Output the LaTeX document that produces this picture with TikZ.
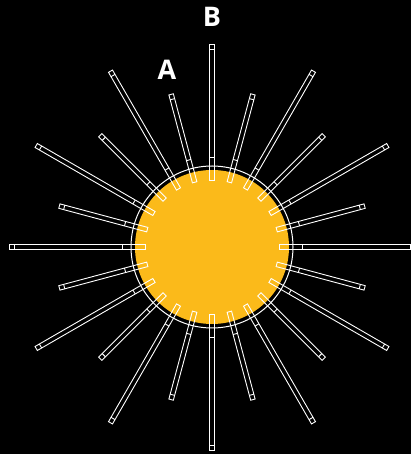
\documentclass[tikz,border=0pt]{standalone}
\usepackage{fontspec}
\setmainfont{Open Sans}
\definecolor{sunorange}{HTML}{FBBA1A}
\begin{document}
\begin{tikzpicture}[x=1pt,y=1pt,
  rayline/.style={draw=white,line width=0.9pt},
  lbl/.style={text=white,font=\bfseries\fontsize{27}{27}\selectfont,inner sep=0pt}]
\fill[black] (0,0) rectangle (411,454);
\useasboundingbox (0,0) rectangle (411,454);
\coordinate (c) at (212,207);
\fill[sunorange] (c) circle[radius=77];
\draw[white,line width=1pt] (c) circle[radius=81];
\foreach \a in {0,30,...,330}{
  \begin{scope}[shift={(c)},rotate=\a]
    \draw[rayline] (67,-2.3) rectangle (203,2.3);
    \draw[rayline] (90,-2.3) -- (90,2.3);
    \draw[rayline] (198,-2.3) -- (198,2.3);
  \end{scope}
}
\foreach \a in {15,45,...,345}{
  \begin{scope}[shift={(c)},rotate=\a]
    \draw[rayline] (67,-2.3) rectangle (158,2.3);
    \draw[rayline] (90,-2.3) -- (90,2.3);
    \draw[rayline] (153,-2.3) -- (153,2.3);
  \end{scope}
}
\node[lbl] (A) at (167,384) {A};
\node[lbl] (B) at (212,437) {B};
\end{tikzpicture}
\end{document}
